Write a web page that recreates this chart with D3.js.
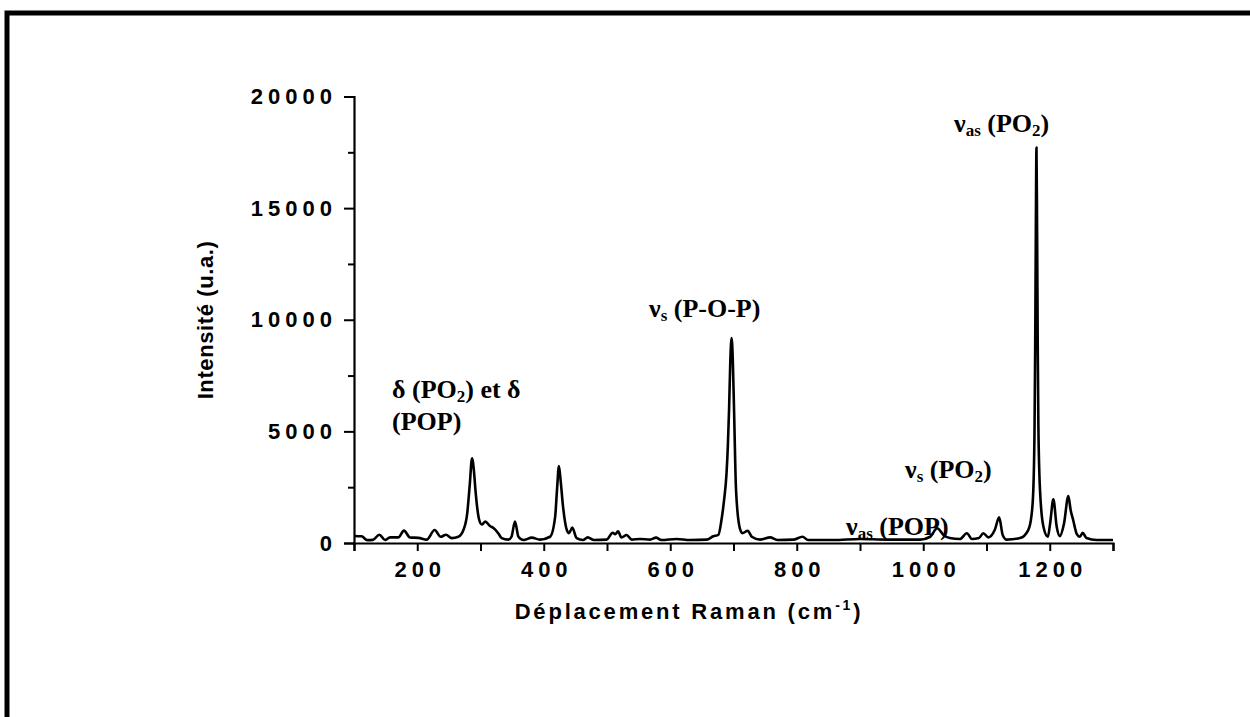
<!DOCTYPE html>
<html>
<head>
<meta charset="utf-8">
<script src="https://cdn.jsdelivr.net/npm/d3@7"></script>
<style>
  body { margin: 0; background: #fff; }
  .tick text { font-family: "Liberation Sans", Arial, sans-serif; font-weight: bold; }
  .note { font-family: "Liberation Serif", "Times New Roman", serif; font-weight: bold; font-size: 26px; }
</style>
</head>
<body>
<div id="chart"></div>
<script>
// Raman spectrum (cm-1, u.a.)
const ramanShift = [100, 112, 121, 130, 140, 149, 157, 170, 179, 188.5, 202, 215, 227.5, 237, 245.5, 254.5, 265, 273, 279, 283, 286.6, 290, 292, 298, 302, 307.6, 315, 321, 328, 333.5, 344, 349, 354.5, 360, 368, 381, 394, 410, 418, 421, 424, 427, 430.5, 436.5, 440, 445, 452, 462, 469.5, 479, 499.5, 509, 513, 517.4, 523, 531, 539, 552, 568, 577.5, 586, 610, 631, 657.6, 668, 676, 681, 685, 689, 691, 693, 695, 697, 699, 701, 704, 710, 714, 722.5, 729, 742, 758, 769, 794.5, 809, 818, 858, 900, 942, 995, 1011, 1022, 1032, 1042, 1058, 1069, 1077, 1088, 1095, 1103, 1113, 1120, 1125.6, 1132, 1153, 1166, 1171, 1174, 1176, 1177, 1178, 1179, 1180, 1181, 1182, 1184.6, 1190, 1197, 1200.6, 1205.7, 1211, 1216, 1222.6, 1229.4, 1233, 1237, 1242.6, 1247.8, 1252, 1258, 1274, 1300];
const intensity = [314, 300, 130, 140, 372, 134, 250, 250, 553, 250, 230, 150, 582, 280, 370, 220, 280, 582, 1330, 2600, 3794, 3100, 2375, 1030, 830, 956, 760, 660, 440, 220, 150, 280, 956, 280, 134, 240, 150, 280, 1170, 2400, 3450, 2700, 1630, 580, 440, 690, 220, 134, 250, 134, 150, 460, 390, 520, 250, 360, 150, 180, 150, 240, 134, 180, 134, 150, 300, 360, 1030, 1900, 3130, 4300, 6000, 8200, 9185, 8100, 5800, 2375, 660, 440, 550, 280, 150, 250, 134, 150, 280, 134, 134, 180, 150, 150, 280, 660, 360, 220, 180, 440, 180, 220, 440, 250, 580, 1150, 360, 150, 220, 580, 1200, 2375, 5300, 8900, 14000, 17710, 14000, 8900, 5300, 2375, 730, 280, 880, 1955, 730, 310, 880, 2105, 1480, 1030, 410, 280, 460, 220, 134, 134];

const xTicks = [100, 200, 300, 400, 500, 600, 700, 800, 900, 1000, 1100, 1200, 1300];
const yMajorTicks = [0, 5000, 10000, 15000, 20000];
const yMinorTicks = [2500, 7500, 12500, 17500];

const spectrum = ramanShift.map((d, i) => ({ x: d, y: intensity[i] }));

const fullWidth = 1250, fullHeight = 717;
const margin = { top: 96.5, left: 354 },
    width = 1113 - 354,
    height = 543 - 96.5;

const root = d3.select("#chart")
    .append("svg")
    .attr("width", fullWidth)
    .attr("height", fullHeight);

// outer frame (right and bottom edges fall outside the picture)
root.append("rect")
    .attr("x", 7)
    .attr("y", 13)
    .attr("width", 1400)
    .attr("height", 900)
    .attr("fill", "none")
    .attr("stroke", "#000")
    .attr("stroke-width", 5);

const svg = root.append("g")
    .attr("transform", "translate(" + margin.left + "," + margin.top + ")");

const x = d3.scaleLinear().domain([100, 1300]).range([0, width]);
const y = d3.scaleLinear().domain([0, 20000]).range([height, 0]);

// x axis
svg.append("g")
    .attr("class", "x-axis")
    .attr("transform", `translate(0, ${height})`)
    .call(d3.axisBottom(x)
        .tickValues(xTicks)
        .tickSize(8)
        .tickPadding(10)
        .tickFormat(d => d % 200 === 0 ? d : ""))
    .call(g => g.select(".domain").attr("stroke-width", 2.2))
    .call(g => g.selectAll(".tick line").attr("stroke-width", 2))
    .call(g => g.selectAll(".tick text")
        .style("font-size", "22px")
        .style("letter-spacing", "5px")
        .attr("dx", "2.5px"));

// y axis, major and minor ticks
svg.append("g")
    .attr("class", "y-axis")
    .call(d3.axisLeft(y)
        .tickValues(yMajorTicks)
        .tickSize(10)
        .tickPadding(7)
        .tickFormat(d3.format("d")))
    .call(g => g.select(".domain").attr("stroke-width", 2.2))
    .call(g => g.selectAll(".tick line").attr("stroke-width", 2))
    .call(g => g.selectAll(".tick text")
        .style("font-size", "22px")
        .style("letter-spacing", "5px"));

svg.append("g")
    .call(d3.axisLeft(y).tickValues(yMinorTicks).tickSize(6).tickFormat(""))
    .call(g => g.select(".domain").remove())
    .call(g => g.selectAll(".tick line").attr("stroke-width", 2));

// spectrum
const line = d3.line()
    .x(d => x(d.x))
    .y(d => y(d.y))
    .curve(d3.curveMonotoneX);

svg.append("path")
    .datum(spectrum)
    .attr("fill", "none")
    .attr("stroke", "#000")
    .attr("stroke-width", 2.6)
    .attr("stroke-linejoin", "round")
    .attr("d", line);

// axis titles
root.append("text")
    .attr("x", 689)
    .attr("y", 619)
    .attr("text-anchor", "middle")
    .style("font-family", "'Liberation Sans', Arial, sans-serif")
    .style("font-weight", "bold")
    .style("font-size", "22px")
    .style("letter-spacing", "2.8px")
    .html('Déplacement Raman (cm<tspan dy="-9" font-size="14px">-1</tspan><tspan dy="9">)</tspan>');

root.append("text")
    .attr("transform", "translate(213,320) rotate(-90)")
    .attr("text-anchor", "middle")
    .style("font-family", "'Liberation Sans', Arial, sans-serif")
    .style("font-weight", "bold")
    .style("font-size", "22px")
    .style("letter-spacing", "0.6px")
    .text("Intensité (u.a.)");

// band assignments
function note(px, py, parts) {
    const t = root.append("text").attr("class", "note").attr("x", px).attr("y", py);
    parts.forEach(p => {
        const s = t.append("tspan").text(p[0]);
        if (p[1] === "sub") s.attr("font-size", "17px").attr("dy", 4);
        if (p[1] === "up") s.attr("dy", -4);
    });
}
note(954, 132, [["ν"], ["as", "sub"], [" (PO", "up"], ["2", "sub"], [")", "up"]]);
note(649, 317, [["ν"], ["s", "sub"], [" (P-O-P)", "up"]]);
note(392, 398, [["δ (PO"], ["2", "sub"], [") et δ", "up"]]);
note(392, 430, [["(POP)"]]);
note(905, 478, [["ν"], ["s", "sub"], [" (PO", "up"], ["2", "sub"], [")", "up"]]);
note(846, 535, [["ν"], ["as", "sub"], [" (POP)", "up"]]);
</script>
</body>
</html>
